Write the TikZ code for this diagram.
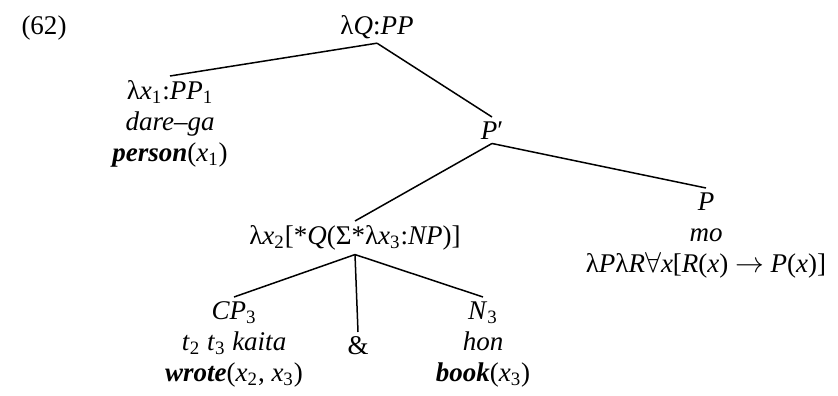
\documentclass[tikz,border=0pt]{standalone}
\usepackage{fontspec}
\setmainfont{Liberation Serif}
\usepackage{tikz}
\usetikzlibrary{positioning}
\newcommand{\ix}[1]{\textsubscript{\upshape #1}}
\newcommand{\bi}[1]{\textbf{\textit{#1}}}

\begin{document}
\begin{tikzpicture}[x=0.5pt,y=-0.5pt,
    lbl/.style={anchor=north,align=center,inner sep=2pt,font=\fontsize{13.5}{15.5}\selectfont},
    branch/.style={line width=0.75pt,draw=black}
]
\useasboundingbox (0,0) rectangle (838,395);
\node[lbl] (ex) at (44,11) {(62)};
\node[lbl] (root) at (377,11) {λ\textit{Q}:\textit{PP}};
\node[lbl] (who) at (170,76) {λ\textit{x}\ix{1}:\textit{PP}\ix{1}\\\textit{dare--ga}\\\bi{person}(\textit{x}\ix{1})};
\node[lbl] (pbar) at (492,117) {\textit{P}′};
\node[lbl] (lam) at (355,221) {λ\textit{x}\ix{2}[*\textit{Q}(Σ*λ\textit{x}\ix{3}:\textit{NP})]};
\node[lbl] (mo) at (706,188) {\textit{P}\\\textit{mo}\\λ\textit{P}λ\textit{R}$\forall$\textit{x}[\textit{R}(\textit{x}) $\rightarrow$ \textit{P}(\textit{x})]};
\node[lbl] (cp) at (234,297) {\textit{CP}\ix{3}\\\textit{t}\ix{2} \textit{t}\ix{3} \textit{kaita}\\\bi{wrote}(\textit{x}\ix{2}, \textit{x}\ix{3})};
\node[lbl] (amp) at (358,332) {\&};
\node[lbl] (book) at (483,297) {\textit{N}\ix{3}\\\textit{hon}\\\bi{book}(\textit{x}\ix{3})};
\draw[branch] (root.south) -- (who.north);
\draw[branch] (root.south) -- (pbar.north);
\draw[branch] (pbar.south) -- (lam.north);
\draw[branch] (pbar.south) -- (mo.north);
\draw[branch] (lam.south) -- (cp.north);
\draw[branch] (lam.south) -- (amp.north);
\draw[branch] (lam.south) -- (book.north);
\end{tikzpicture}
\end{document}
